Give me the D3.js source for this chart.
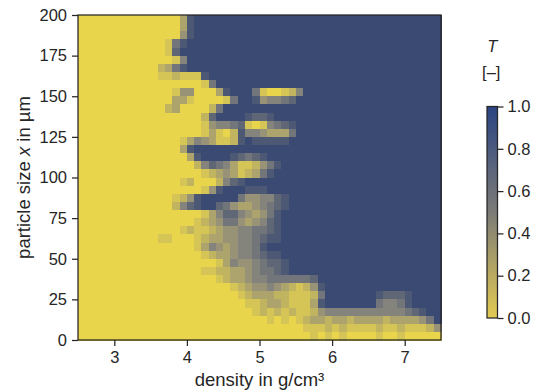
<!DOCTYPE html>
<html>
<head>
<meta charset="utf-8">
<script src="https://cdn.jsdelivr.net/npm/d3@7"></script>
<style>
  body { margin: 0; background: #fff; }
  svg text { font-family: "Liberation Sans", Arial, sans-serif; fill: #262626; }
</style>
</head>
<body>
<svg id="chart" width="542" height="391"></svg>
<script>
// ---- data ----
const densityDomain = [2.5, 7.5];           // g/cm³
const sizeDomain    = [0, 200];             // µm
const densityTicks  = [3, 4, 5, 6, 7];
const sizeTicks     = [0, 25, 50, 75, 100, 125, 150, 175, 200];
const cbarTicks     = [0, 0.2, 0.4, 0.6, 0.8, 1.0];
const nCols = 50;   // density bins, 0.1 g/cm³ each
const nRows = 40;   // size bins, 5 µm each

// T grid, first string = 195..200 µm, last = 0..5 µm.
// one digit per density bin (2.5 -> 7.5), T = digit / 9
const tRows = [
  "0000000000 0000389999 9999999999 9999999999 9999999999",
  "0000000000 0000389999 9999999999 9999999999 9999999999",
  "0000000000 0000489999 9999999999 9999999999 9999999999",
  "0000000000 0016899999 9999999999 9999999999 9999999999",
  "0000000000 0017999999 9999999999 9999999999 9999999999",
  "0000000000 0001599999 9999999999 9999999999 9999999999",
  "0000000000 0236899999 9999999999 9999999999 9999999999",
  "0000000000 0112111899 9999999999 9999999999 9999999999",
  "0000000000 0000000169 9999999999 9999999999 9999999999",
  "0000000000 0001440003 8999610012 5999999999 9999999999",
  "0000000000 0003310000 1699845567 9999999999 9999999999",
  "0000000000 0023000026 9999999999 9999999999 9999999999",
  "0000000000 0000000279 9998778999 9999999999 9999999999",
  "0000000000 0000000145 5671015678 9999999999 9999999999",
  "0000000000 0000000131 0285543336 9999999999 9999999999",
  "0000000000 0000135431 1289888889 9999999999 9999999999",
  "0000000000 0000389999 9999999999 9999999999 9999999999",
  "0000000000 0000038999 9876789999 9999999999 9999999999",
  "0000000000 0000002576 5311246899 9999999999 9999999999",
  "0000000000 0000000123 4312368999 9999999999 9999999999",
  "0000000000 0000120002 5789999999 9999999999 9999999999",
  "0000000000 0000000148 9998889999 9999999999 9999999999",
  "0000000000 0001248999 9964455789 9999999999 9999999999",
  "0000000000 0002578997 6433456789 9999999999 9999999999",
  "0000000000 0000000135 7754346899 9999999999 9999999999",
  "0000000000 0000001234 6643457899 9999999999 9999999999",
  "0000000000 0000121123 4455667899 9999999999 9999999999",
  "0000000000 0110001233 4455678899 9999999999 9999999999",
  "0000000000 0000001354 3455689999 9999999999 9999999999",
  "0000000000 0000000123 3455678899 9999999999 9999999999",
  "0000000000 0000000001 3544567789 9999999999 9999999999",
  "0000000000 0000000112 2334566789 9999999999 9999999999",
  "0000000000 0000000001 2334556666 6679999999 9999999999",
  "0000000000 0000000000 0123445432 1248999999 9999999999",
  "0000000000 0000000000 0012333221 1126999999 9877789999",
  "0000000000 0000000000 0001123321 1138999999 9655689999",
  "0000000000 0000000000 0000121212 1124555555 5555567899",
  "0000000000 0000000000 0000001010 1233233233 3323333469",
  "0000000000 0000000000 0000000000 0111212111 1211211124",
  "0000000000 0000000000 0000000000 0010101000 0100100000"
];

// ---- layout ----
const svg = d3.select("#chart");
const plotL = 78, plotR = 441, plotT = 15, plotB = 340;
const ink       = "#262626";
const tickFont  = 16.5;
const labelFont = 18.5;

const x = d3.scaleLinear(densityDomain, [plotL, plotR]);
const y = d3.scaleLinear(sizeDomain, [plotB, plotT]);

const heatColor = d3.scaleLinear([0, 0.5, 1], ["#e9d54b", "#8e8b7d", "#3a4a72"]);
const cbarColor = d3.scaleLinear([0, 0.5, 1], ["#e3cb52", "#7c7b77", "#2b4482"]);

// 1) cells
const dStep = (densityDomain[1] - densityDomain[0]) / nCols;
const sStep = (sizeDomain[1] - sizeDomain[0]) / nRows;
const cells = [];
tRows.forEach((row, j) => {
  const digits = row.replace(/ /g, "");
  for (let i = 0; i < nCols; i++) {
    cells.push({
      d0: densityDomain[0] + i * dStep,
      s1: sizeDomain[1] - j * sStep,
      t:  +digits[i] / 9
    });
  }
});

svg.append("g")
  .attr("shape-rendering", "crispEdges")
  .selectAll("rect")
  .data(cells)
  .join("rect")
    .attr("x",      d => x(d.d0))
    .attr("y",      d => y(d.s1))
    .attr("width",  d => x(d.d0 + dStep) - x(d.d0) + 0.5)
    .attr("height", d => y(d.s1 - sStep) - y(d.s1) + 0.5)
    .attr("fill",   d => heatColor(d.t));

// 2) axes
function styleAxis(a) {
  a.select(".domain").remove();
  a.selectAll(".tick line").attr("stroke", ink).attr("stroke-width", 1.25);
  a.selectAll(".tick text").attr("font-size", tickFont).attr("fill", ink)
    .style("font-family", "'Liberation Sans', Arial, sans-serif");
}

svg.append("g")
  .attr("transform", `translate(0,${plotB})`)
  .call(d3.axisBottom(x).tickValues(densityTicks).tickSize(6).tickPadding(5).tickFormat(d3.format("d")))
  .call(styleAxis);
svg.append("g")
  .attr("transform", `translate(${plotL},0)`)
  .call(d3.axisLeft(y).tickValues(sizeTicks).tickSize(6).tickPadding(5).tickFormat(d3.format("d")))
  .call(styleAxis);

// frame
svg.append("rect")
  .attr("x", plotL).attr("y", plotT)
  .attr("width", plotR - plotL).attr("height", plotB - plotT)
  .attr("fill", "none").attr("stroke", ink).attr("stroke-width", 1.25);

// 3) axis titles
svg.append("text")
  .attr("x", (plotL + plotR) / 2)
  .attr("y", 386)
  .attr("text-anchor", "middle")
  .attr("font-size", labelFont)
  .text("density in g/cm³");

const yTitle = svg.append("text")
  .attr("transform", `translate(30,${(plotT + plotB) / 2}) rotate(-90)`)
  .attr("text-anchor", "middle")
  .attr("font-size", labelFont);
yTitle.append("tspan").text("particle size ");
yTitle.append("tspan").attr("font-style", "italic").text("x");
yTitle.append("tspan").text(" in µm");

// 4) colorbar
const cbL = 487, cbW = 10.5, cbT = 106.5, cbB = 318;
const cbY = d3.scaleLinear([0, 1], [cbB, cbT]);

const grad = svg.append("defs").append("linearGradient")
  .attr("id", "cb-grad")
  .attr("x1", "0%").attr("y1", "100%")
  .attr("x2", "0%").attr("y2", "0%");
d3.range(0, 1.01, 0.1).forEach(t => {
  grad.append("stop")
    .attr("offset", `${t * 100}%`)
    .attr("stop-color", cbarColor(t));
});

svg.append("rect")
  .attr("x", cbL).attr("y", cbT)
  .attr("width", cbW).attr("height", cbB - cbT)
  .attr("fill", "url(#cb-grad)")
  .attr("stroke", ink).attr("stroke-width", 1.25);

svg.append("g")
  .attr("transform", `translate(${cbL + cbW},0)`)
  .call(d3.axisRight(cbY).tickValues(cbarTicks).tickSize(6).tickPadding(4).tickFormat(d3.format(".1f")))
  .call(styleAxis);

svg.append("text")
  .attr("x", cbL + cbW / 2).attr("y", 52)
  .attr("text-anchor", "middle")
  .attr("font-size", tickFont)
  .attr("font-style", "italic")
  .text("T");
svg.append("text")
  .attr("x", cbL + cbW / 2 - 1).attr("y", 78)
  .attr("text-anchor", "middle")
  .attr("font-size", tickFont)
  .text("[–]");
</script>
</body>
</html>
